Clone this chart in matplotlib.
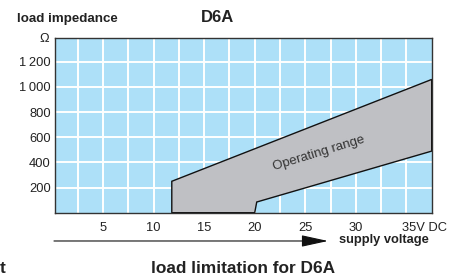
import matplotlib
matplotlib.use("Agg")
import matplotlib.pyplot as plt
import matplotlib.transforms as mtransforms
from matplotlib.patches import Polygon

plt.rcParams['font.family'] = ['Liberation Sans', 'DejaVu Sans']

# data
x_ticks = [5, 10, 15, 20, 25, 30, 35]
x_labels = ["5", "10", "15", "20", "25", "30", "35V DC"]
x_minor = [2.5, 7.5, 12.5, 17.5, 22.5, 27.5, 32.5]
y_ticks = [200, 400, 600, 800, 1000, 1200]
y_labels = ["200", "400", "600", "800", "1\u2009000", "1\u2009200"]
range_v = [11.8, 11.8, 37.5, 37.5, 20.2, 20.0]      # supply voltage (V)
range_ohm = [0, 250, 1060, 490, 85, 0]              # load impedance (ohm)

fig = plt.figure(figsize=(4.59, 2.77), dpi=100)
ax = fig.add_axes([0.1198, 0.2321, 0.8207, 0.6318])
ax.set_facecolor('#ade0f8')
ax.set_xlim(0.25, 37.5)
ax.set_ylim(0, 1392)

ax.set_xticks(x_ticks)
ax.set_xticklabels(x_labels)
ax.set_xticks(x_minor, minor=True)
ax.set_yticks(y_ticks)
ax.set_yticklabels(y_labels)
ax.tick_params(which='both', length=0)
ax.tick_params(axis='x', pad=6.5, labelsize=9.3, colors='#222222')
ax.tick_params(axis='y', pad=3, labelsize=9.3, colors='#222222')
ax.grid(True, which='both', color='white', lw=1.4)
ax.set_axisbelow(True)

lbl = ax.get_xticklabels()[-1]
lbl.set_horizontalalignment('left')
lbl.set_transform(lbl.get_transform() + mtransforms.ScaledTranslation(-4/100, 0, fig.dpi_scale_trans))

for s in ax.spines.values():
    s.set_color('#333333')
    s.set_linewidth(1.0)
    s.set_zorder(5)

poly = Polygon(list(zip(range_v, range_ohm)), closed=True, facecolor='#bfc0c4',
               edgecolor='#111111', lw=1.0, zorder=3)
ax.add_patch(poly)
ax.text(26.3, 470, "Operating range", rotation=17, ha='center', va='center',
        fontsize=9.5, color='#333333', zorder=4)

ax.text(-0.35, 1381, "\u03a9", ha='right', va='center', fontsize=9.3, color='#222222',
        transform=ax.transData, clip_on=False)

fig.text(0.037, 0.931, "load impedance", ha='left', va='center', fontsize=9.6, fontweight='bold', color='#222222')
fig.text(0.4728, 0.9386, "D6A", ha='center', va='center', fontsize=12, fontweight='bold', color='#222222')
fig.text(0.7386, 0.1336, "supply voltage", ha='left', va='center', fontsize=9.3, fontweight='bold', color='#222222')
fig.text(0.329, 0.0289, "load limitation for D6A", ha='left', va='center', fontsize=12.4, fontweight='bold', color='#222222')
fig.text(0.0, 0.0289, "t", ha='left', va='center', fontsize=12.4, fontweight='bold', color='#222222')

ax.annotate("", xy=(0.7146, 0.130), xytext=(0.1176, 0.130), xycoords='figure fraction',
            textcoords='figure fraction',
            arrowprops=dict(arrowstyle='-|>,head_length=1.65,head_width=0.36',
                            lw=0.8, color='#111111', shrinkA=0, shrinkB=0))

fig.savefig("out.png", dpi=100)
